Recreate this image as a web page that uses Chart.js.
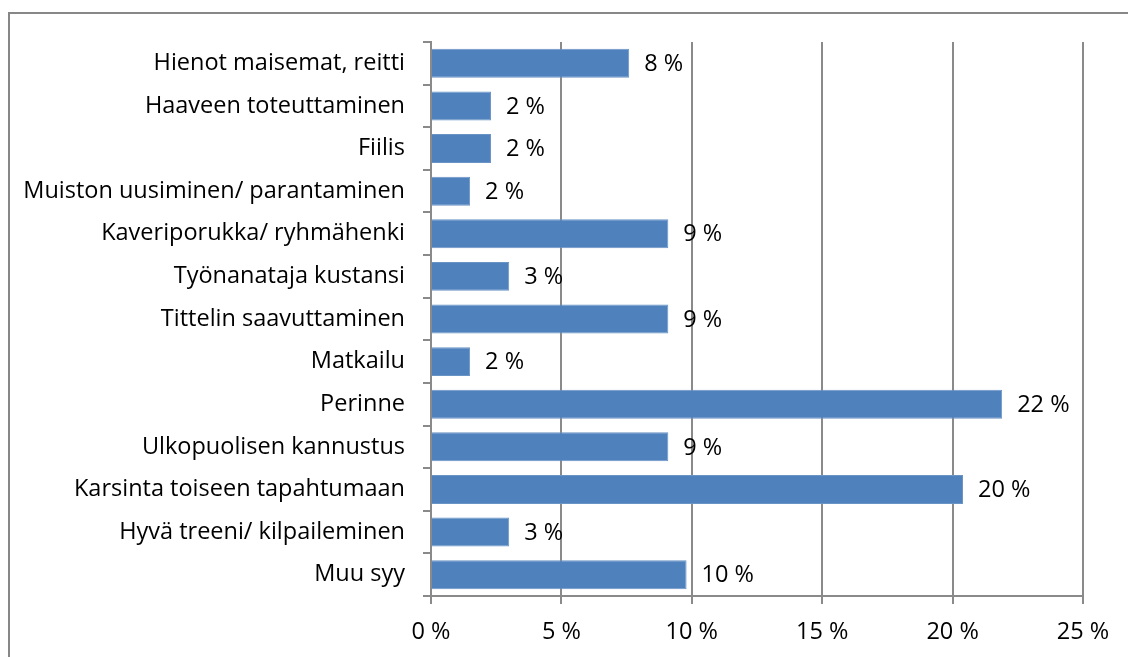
<!DOCTYPE html>
<html>
<head>
<meta charset="utf-8">
<script src="https://cdn.jsdelivr.net/npm/chart.js@4/dist/chart.umd.min.js"></script>
<style>
  html, body { margin: 0; padding: 0; background: #fff; }
  #wrap { position: relative; width: 1128px; height: 657px; }
  #frame { position: absolute; left: 8px; top: 12px; right: 0; bottom: -10px;
           border-left: 2px solid #878787; border-top: 2px solid #878787; }
</style>
</head>
<body>
<div id="wrap">
  <div id="frame"></div>
  <canvas id="barChart" width="1128" height="657"></canvas>
</div>
<script>
let categories = [
  'Hienot maisemat, reitti',
  'Haaveen toteuttaminen',
  'Fiilis',
  'Muiston uusiminen/ parantaminen',
  'Kaveriporukka/ ryhmähenki',
  'Työnanataja kustansi',
  'Tittelin saavuttaminen',
  'Matkailu',
  'Perinne',
  'Ulkopuolisen kannustus',
  'Karsinta toiseen tapahtumaan',
  'Hyvä treeni/ kilpaileminen',
  'Muu syy'
]
let shares = [7.6, 2.3, 2.3, 1.5, 9.1, 3.0, 9.1, 1.5, 21.9, 9.1, 20.4, 3.0, 9.8]
let xTicks = [0, 5, 10, 15, 20, 25]

const font = { family: '"Open Sans", Lato, sans-serif', size: 23.5 }
const lineGray = '#8a8a8a'

// value labels at the end of each bar
const valueLabels = {
  id: 'valueLabels',
  afterDatasetsDraw(chart) {
    let c = chart.ctx
    c.save()
    c.font = font.size + 'px ' + font.family
    c.fillStyle = '#000'
    c.textAlign = 'left'
    c.textBaseline = 'middle'
    chart.getDatasetMeta(0).data.forEach((bar, i) => {
      c.fillText(Math.round(shares[i]) + ' %', bar.x + 15, bar.y + 1)
    })
    c.restore()
  }
}

let ctx = document.getElementById('barChart')

const chart = new Chart(ctx, {
  type: 'bar',
  data: {
    labels: categories,
    datasets: [{
      data: shares,
      backgroundColor: '#4f81bd',
      borderColor: '#6a94c6',
      borderWidth: 1,
      barPercentage: 0.68,
      categoryPercentage: 1
    }]
  },
  options: {
    indexAxis: 'y',
    responsive: false,
    animation: false,
    layout: { padding: { left: 0, top: 42, right: 45, bottom: 0 } },
    plugins: { legend: { display: false }, tooltip: { enabled: false } },
    scales: {
      x: {
        min: 0,
        max: 25,
        afterBuildTicks: scale => { scale.ticks = xTicks.map(v => ({ value: v })) },
        afterFit: scale => { scale.height = 61 },
        ticks: {
          color: '#000',
          font: font,
          padding: 14,
          maxRotation: 0,
          callback: v => v + ' %'
        },
        grid: { color: lineGray, lineWidth: 2, tickLength: 8, drawTicks: true },
        border: { color: lineGray, width: 2 }
      },
      y: {
        afterFit: scale => { scale.width = 431 },
        ticks: { color: '#000', font: font, padding: 18, autoSkip: false },
        grid: { drawOnChartArea: false, color: lineGray, lineWidth: 2, tickLength: 8 },
        border: { color: lineGray, width: 2 }
      }
    }
  },
  plugins: [valueLabels]
})
</script>
</body>
</html>
